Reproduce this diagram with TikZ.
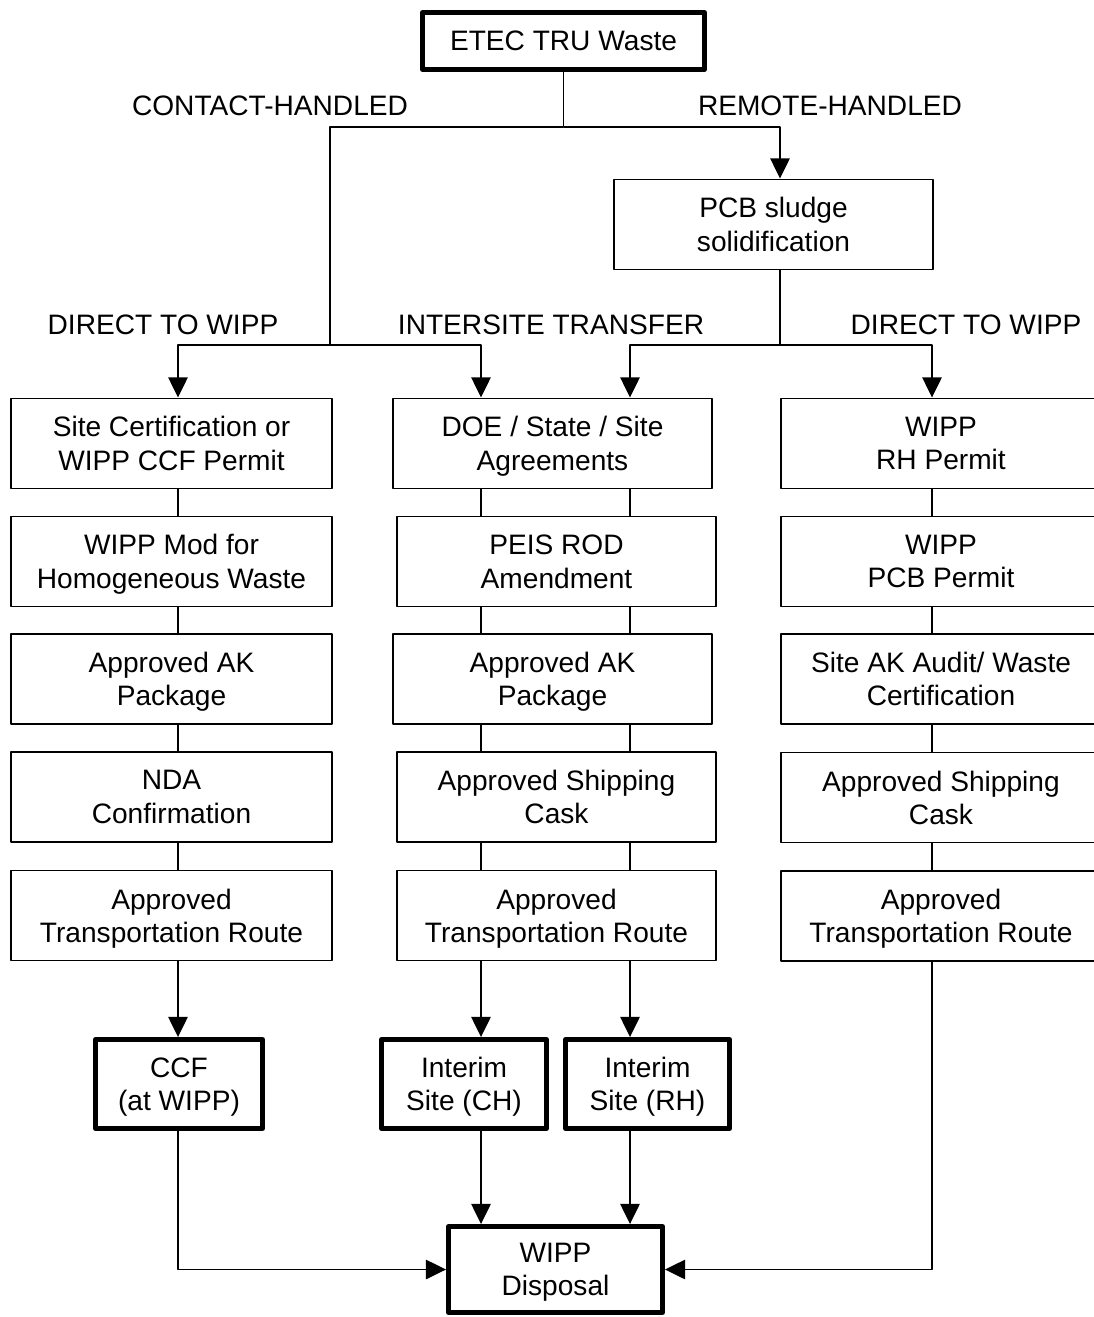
\documentclass[tikz,border=0pt]{standalone}
\usepackage{fontspec}
\setmainfont{Liberation Sans}
\usetikzlibrary{arrows.meta}
\begin{document}
\begin{tikzpicture}[x=0.02cm, y=-0.02cm, font=\fontsize{16}{19}\selectfont, line join=round, line width=1.1pt, >={Triangle[width=11pt,length=11.5pt]}]
	\tikzset{box/.style={draw, line width=1.1pt, align=center, minimum width=6.42cm, minimum height=1.8cm, inner sep=0pt, text depth=0pt},
		heavy/.style={box, line width=2.8pt}}
	\useasboundingbox (0,0) rectangle (1094,1317);
	\node[heavy, minimum width=5.64cm, minimum height=1.14cm] (etec) at (563.5,41) {ETEC TRU Waste};
	\node[box, minimum width=6.38cm] (pcb) at (773.5,224.5) {PCB sludge\\solidification};
	\foreach \y/\t [count=\n] in {443.5/{Site Certification or\\WIPP CCF Permit}, 561.5/{WIPP Mod for\\Homogeneous Waste}, 679/{Approved AK\\Package}, 797/{NDA\\Confirmation}, 915.5/{Approved\\Transportation Route}}
		\node[box] (c\n) at (171.5,\y) {\t};
	\foreach \x/\y/\t [count=\n] in {552.5/443.5/{DOE / State / Site\\Agreements}, 556.5/561.5/{PEIS ROD\\Amendment}, 552.5/679/{Approved AK\\Package}, 556.5/797/{Approved Shipping\\Cask}, 556.5/915.5/{Approved\\Transportation Route}}
		\node[box, minimum width=6.38cm] (i\n) at (\x,\y) {\t};
	\foreach \y/\t [count=\n] in {443.5/{WIPP\\RH Permit}, 561.5/{WIPP\\PCB Permit}, 679/{Site AK Audit/ Waste\\Certification}, 797.5/{Approved Shipping\\Cask}, 916/{Approved\\Transportation Route}}
		\node[box] (r\n) at (941,\y) {\t};
	\node[heavy, minimum width=3.34cm, minimum height=1.78cm] (ccf) at (179,1084) {CCF\\(at WIPP)};
	\node[heavy, minimum width=3.3cm, minimum height=1.78cm] (ich) at (464,1084) {Interim\\Site (CH)};
	\node[heavy, minimum width=3.28cm, minimum height=1.78cm] (irh) at (647.5,1084) {Interim\\Site (RH)};
	\node[heavy, minimum width=4.28cm, minimum height=1.72cm] (disp) at (555.5,1269.5) {WIPP\\Disposal};
	\node (chl) at (270,106) {CONTACT-HANDLED};
	\node (rhl) at (830,106) {REMOTE-HANDLED};
	\node (dl) at (163,325) {DIRECT TO WIPP};
	\node (il) at (551,325) {INTERSITE TRANSFER};
	\node (dr) at (966,325) {DIRECT TO WIPP};
	\coordinate (top) at (563.5,127);
	\coordinate (chsplit) at (330,345);
	\coordinate (rhsplit) at (780,345);
	\coordinate (ca) at (178,0);
	\coordinate (cb) at (481,0);
	\coordinate (cc) at (630,0);
	\coordinate (cd) at (932,0);
	\draw (etec.south) -- (top) -| (chsplit);
	\draw[->] (top) -| (pcb.north -| rhsplit);
	\draw (pcb.south -| rhsplit) -- (rhsplit);
	\draw[->] (chsplit) -| (c1.north -| ca);
	\draw[->] (chsplit) -| (i1.north -| cb);
	\draw[->] (rhsplit) -| (i1.north -| cc);
	\draw[->] (rhsplit) -| (r1.north -| cd);
	\foreach \a/\b in {1/2,2/3,3/4,4/5} {
		\draw (c\a.south -| ca) -- (c\b.north -| ca);
		\draw (i\a.south -| cb) -- (i\b.north -| cb);
		\draw (i\a.south -| cc) -- (i\b.north -| cc);
		\draw (r\a.south -| cd) -- (r\b.north -| cd);
	}
	\draw[->] (c5.south -| ca) -- (ccf.north -| ca);
	\draw[->] (i5.south -| cb) -- (ich.north -| cb);
	\draw[->] (i5.south -| cc) -- (irh.north -| cc);
	\draw[->] (ich.south -| cb) -- (disp.north -| cb);
	\draw[->] (irh.south -| cc) -- (disp.north -| cc);
	\draw[->] (ccf.south -| ca) |- (disp.west);
	\draw[->] (r5.south -| cd) |- (disp.east);
\end{tikzpicture}
\end{document}
